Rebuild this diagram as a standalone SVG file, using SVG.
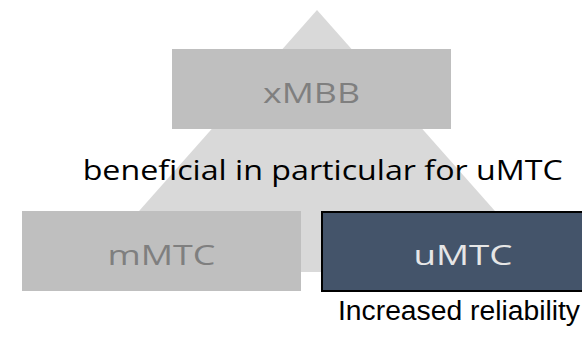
<svg xmlns="http://www.w3.org/2000/svg" width="582" height="340" viewBox="0 0 582 340">
<style>
.box{fill:#BFBFBF}
.lbl{font-family:"Open Sans","Noto Sans",sans-serif;font-size:27px;fill:#7F7F7F;text-anchor:middle}
.hd{font-family:"Open Sans","Noto Sans",sans-serif;font-size:28px;fill:#000}
.note{font-family:"Liberation Sans",Arial,sans-serif;font-size:27px;fill:#000}
</style>
<rect width="582" height="340" fill="#FFFFFF"/>
<polygon id="pyramid" points="317,10 549,272 85,272" fill="#D9D9D9"/>
<g id="xMBB">
<rect class="box" x="172" y="49" width="279" height="80"/>
<text class="lbl" x="311.5" y="102.7" textLength="97" lengthAdjust="spacingAndGlyphs">xMBB</text>
</g>
<text id="caption" class="hd" x="82.7" y="180" textLength="480" lengthAdjust="spacingAndGlyphs">beneficial in particular for uMTC</text>
<g id="mMTC">
<rect class="box" x="22" y="211" width="279" height="80"/>
<text class="lbl" x="161.5" y="265" textLength="108" lengthAdjust="spacingAndGlyphs">mMTC</text>
</g>
<g id="uMTC">
<rect x="322" y="212" width="280" height="79" fill="#44546A" stroke="#000" stroke-width="2"/>
<text class="lbl" x="463" y="265" textLength="99" lengthAdjust="spacingAndGlyphs" style="fill:#E6E6E6">uMTC</text>
</g>
<text id="note" class="note" x="338" y="320" textLength="242" lengthAdjust="spacingAndGlyphs">Increased reliability</text>
<g id="connectors"/>
</svg>
